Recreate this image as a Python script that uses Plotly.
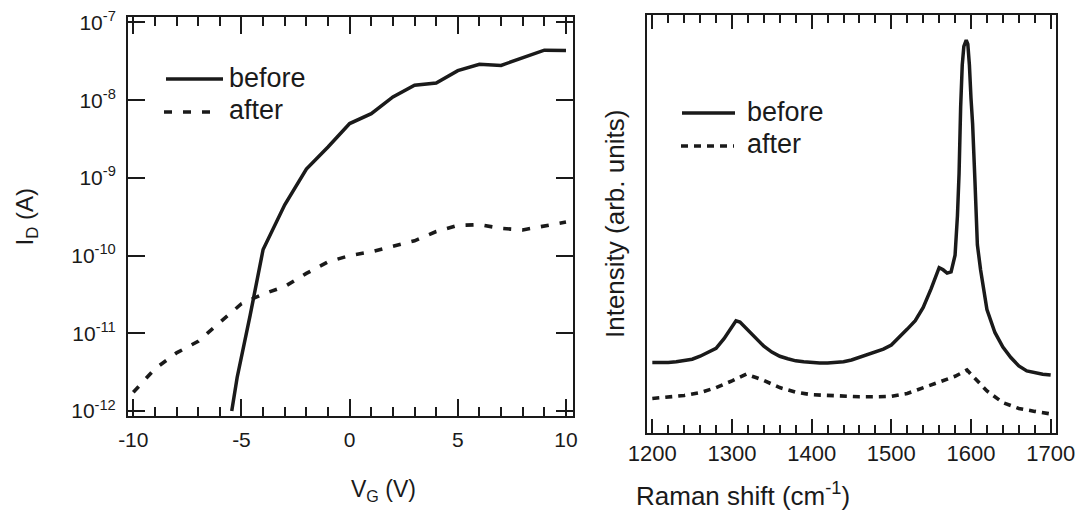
import plotly.graph_objects as go

# ---------------- data: left panel (transfer curves) ----------------
vg_before = [-5.45, -5.2, -4.6, -4, -3, -2, -1, 0, 1, 2, 3, 4, 5, 6, 7, 8, 9, 10]
id_before = [1.0e-12, 2.7e-12, 1.7e-11, 1.2e-10, 4.5e-10, 1.3e-9, 2.5e-9, 5.0e-9,
             6.7e-9, 1.1e-8, 1.56e-8, 1.66e-8, 2.4e-8, 2.9e-8, 2.8e-8, 3.5e-8,
             4.4e-8, 4.35e-8]
vg_after = [-10, -9, -8, -7, -6, -5, -4, -3, -2, -1, 0, 1, 2, 3, 4, 5, 6, 7, 8, 9, 10]
id_after = [1.74e-12, 3.5e-12, 5.6e-12, 7.9e-12, 1.38e-11, 2.4e-11, 3.2e-11, 4.0e-11,
            5.9e-11, 8.3e-11, 1.0e-10, 1.12e-10, 1.32e-10, 1.55e-10, 2.04e-10,
            2.45e-10, 2.5e-10, 2.24e-10, 2.14e-10, 2.4e-10, 2.7e-10]
left_ytickvals = [1e-12, 1e-11, 1e-10, 1e-9, 1e-8, 1e-7]
left_yticktext = ["10<sup>-12</sup>", "10<sup>-11</sup>", "10<sup>-10</sup>",
                  "10<sup>-9</sup>", "10<sup>-8</sup>", "10<sup>-7</sup>"]
left_xtickvals = [-10, -5, 0, 5, 10]
left_xticktext = ["-10", "-5", "0", "5", "10"]

# ---------------- data: right panel (Raman spectra) ----------------
raman_before_x = [1200, 1210, 1220, 1230, 1240, 1250, 1260, 1270, 1280, 1290, 1300, 1305,
                  1310, 1320, 1330, 1340, 1350, 1360, 1370, 1380, 1390, 1400, 1410, 1420,
                  1430, 1440, 1450, 1460, 1470, 1480, 1490, 1500, 1510, 1520, 1530, 1540,
                  1550, 1560, 1565, 1570, 1575, 1580, 1583, 1585, 1587, 1589, 1591, 1594,
                  1596, 1598, 1600, 1602, 1605, 1608, 1612, 1616, 1620, 1630, 1640, 1650,
                  1660, 1670, 1680, 1690, 1700]
raman_before_y = [168, 167, 168, 170, 172, 176, 183, 192, 202, 225, 255, 268,
                  265, 245, 225, 207, 193, 183, 177, 172, 170, 168, 167, 167,
                  168, 170, 174, 180, 186, 193, 200, 210, 228, 248, 268, 300,
                  345, 395, 390, 382, 385, 425, 520, 620, 780, 880, 925, 940,
                  930, 880, 800, 740, 600, 450, 390, 340, 295, 240, 205, 180,
                  160, 148, 143, 140, 138]
raman_after_x = [1200, 1220, 1240, 1260, 1280, 1300, 1318, 1330, 1340, 1360, 1380, 1400,
                 1420, 1440, 1460, 1480, 1500, 1520, 1540, 1560, 1580, 1595, 1605, 1620,
                 1640, 1660, 1680, 1700]
raman_after_y = [82, 85, 89, 96, 108, 124, 140, 132, 125, 108, 97, 91,
                 89, 87, 86, 86, 87, 94, 108, 120, 135, 150, 130, 100,
                 72, 58, 51, 45]
right_xtickvals = [1200, 1300, 1400, 1500, 1600, 1700]

W, H = 1079, 511
INK = "#1a1a1a"
FONT = "Liberation Sans, Arial, Helvetica, sans-serif"


def px(x):
    return x / W


def py(y):
    return 1 - y / H


fig = go.Figure()
fig.add_trace(go.Scatter(x=vg_before, y=id_before, mode="lines", name="before",
                         line=dict(color=INK, width=3.5), xaxis="x", yaxis="y",
                         showlegend=False))
fig.add_trace(go.Scatter(x=vg_after, y=id_after, mode="lines", name="after",
                         line=dict(color=INK, width=3.6, dash="8px,11px"),
                         xaxis="x", yaxis="y", showlegend=False))
fig.add_trace(go.Scatter(x=raman_before_x, y=raman_before_y, mode="lines", name="before",
                         line=dict(color=INK, width=3.5), xaxis="x2", yaxis="y2",
                         showlegend=False))
fig.add_trace(go.Scatter(x=raman_after_x, y=raman_after_y, mode="lines", name="after",
                         line=dict(color=INK, width=3.6, dash="7px,6px"),
                         xaxis="x2", yaxis="y2", showlegend=False))

axis_common = dict(showline=True, linecolor=INK, linewidth=2, mirror="ticks",
                   ticks="inside", tickcolor=INK, tickwidth=1.5, showgrid=False,
                   zeroline=False, automargin=False)

fig.update_layout(
    width=W, height=H,
    margin=dict(l=0, r=0, t=0, b=0),
    paper_bgcolor="white", plot_bgcolor="white",
    font=dict(family=FONT, color=INK, size=21),
    xaxis=dict(domain=[px(128), px(572.7)], anchor="y", range=[-10.245, 10.31],
               tickmode="array", tickvals=left_xtickvals, ticktext=left_xticktext,
               ticklen=17, tickfont=dict(size=21), ticklabelstandoff=4,
               minor=dict(ticks="inside", dtick=1, tick0=0, ticklen=9,
                          tickcolor=INK, tickwidth=1.5, showgrid=False),
               **axis_common),
    yaxis=dict(domain=[py(416), py(17)], anchor="x", type="log",
               range=[-12.064, -6.93], tickmode="array", tickvals=left_ytickvals,
               ticktext=left_yticktext, ticklen=17, tickfont=dict(size=21),
               ticklabelstandoff=6, **axis_common),
    xaxis2=dict(domain=[px(647.3), px(1055.7)], anchor="y2", range=[1193.7, 1706.3],
                tickmode="array", tickvals=right_xtickvals, ticklen=14,
                tickfont=dict(size=22), ticklabelstandoff=0,
                minor=dict(ticks="inside", dtick=20, tick0=1200, ticklen=8,
                           tickcolor=INK, tickwidth=1.5, showgrid=False),
                **axis_common),
    yaxis2=dict(domain=[py(432.7), py(15)], anchor="x2", range=[0, 1000],
                showline=True, linecolor=INK, linewidth=2, mirror=True,
                ticks="", showticklabels=False, showgrid=False, zeroline=False),
)

# axis titles
fig.add_annotation(text="I<sub>D</sub> (A)", x=px(9), y=py(217), xref="paper",
                   yref="paper", textangle=-90, showarrow=False,
                   font=dict(size=24, color=INK))
fig.add_annotation(text="V<sub>G</sub> (V)", x=px(349), y=py(507), xref="paper",
                   yref="paper", showarrow=False, font=dict(size=23, color=INK))
fig.add_annotation(text="Intensity (arb. units)", x=px(615), y=py(224), xref="paper",
                   yref="paper", textangle=-90, showarrow=False,
                   font=dict(size=26, color=INK))
fig.add_annotation(text="Raman shift (cm<sup>-1</sup>)", x=px(852), y=py(513),
                   xref="paper", yref="paper", showarrow=False,
                   font=dict(size=26, color=INK))

# legends (drawn as keys + labels)
legend_items = [
    (166, 223, 79, None, 3.5, 227, 78.5, "before", 27),
    (164, 214, 112, "8px,11px", 3.6, 227, 110.5, "after", 27),
    (682, 735, 113, None, 3.5, 745, 112, "before", 27),
    (681, 734, 146, "7px,6px", 3.6, 745, 143.5, "after", 27),
]
for x0, x1, yl, dash, w, xt, yt, label, fs in legend_items:
    fig.add_shape(type="line", xref="paper", yref="paper", x0=px(x0), x1=px(x1),
                  y0=py(yl), y1=py(yl), line=dict(color=INK, width=w, dash=dash))
    fig.add_annotation(text=label, x=px(xt), y=py(yt), xref="paper", yref="paper",
                       xanchor="left", yanchor="middle", showarrow=False,
                       font=dict(size=fs, color=INK))

fig.write_html("out.html", config={"displayModeBar": False},
               post_script="document.body.style.margin='0';"
                           "document.body.style.overflow='hidden';")
